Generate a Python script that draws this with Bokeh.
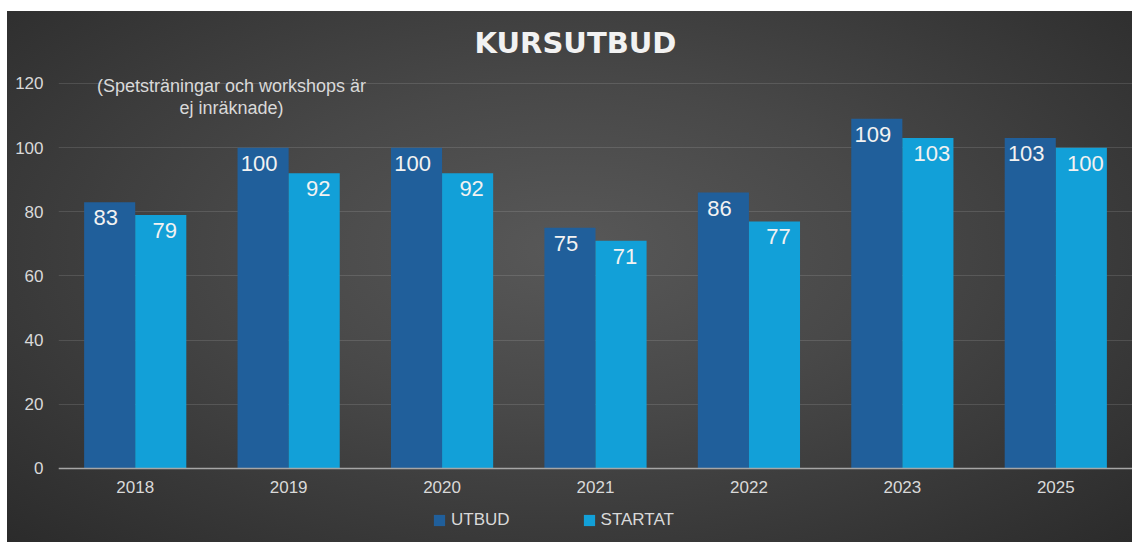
from bokeh.plotting import figure
from bokeh.models import ColumnDataSource, Range1d, FixedTicker, Legend, LegendItem, Label
from bokeh.transform import dodge
from bokeh.core.properties import value
from bokeh.embed import file_html
from bokeh.resources import INLINE

# ---- data ----
years = ["2018", "2019", "2020", "2021", "2022", "2023", "2025"]
utbud = [83, 100, 100, 75, 86, 109, 103]
startat = [79, 92, 92, 71, 77, 103, 100]
y_ticks = [0, 20, 40, 60, 80, 100, 120]
series_names = ["UTBUD", "STARTAT"]
title_text = "KURSUTBUD"
note_text = "(Spetsträningar och workshops är\nej inräknade)"

# ---- style ----
C_UTBUD = "#205f9b"
C_START = "#12a0d8"
TXT = "#d9d9d9"
FONT = "Liberation Sans"
BAR_W = 0.333

idx = list(range(len(years)))
src = ColumnDataSource(dict(
    x=idx, utbud=utbud, startat=startat,
    ul=[str(v) for v in utbud], sl=[str(v) for v in startat],
))

p = figure(width=1132, height=542, output_backend="svg", toolbar_location=None,
           title=None,
           x_range=Range1d(-0.5, len(years) - 0.5), y_range=Range1d(-23.07, 145.87),
           min_border_left=58, min_border_right=0, min_border_top=0,
           min_border_bottom=0)
p.background_fill_alpha = 0
p.border_fill_alpha = 0
p.outline_line_color = None
p.styles = {
    "background-color": "#ffffff",
    "background-image": "radial-gradient(ellipse at 50% 45%, #585858 0%, #484848 40%, #2b2b2b 100%)",
    "background-size": "calc(100% - 7px) calc(100% - 11px)",
    "background-position": "7px 11px",
    "background-repeat": "no-repeat",
}

r1 = p.vbar(x=dodge("x", -BAR_W / 2, range=p.x_range), top="utbud", width=BAR_W,
            source=src, fill_color=C_UTBUD, line_color=None)
r2 = p.vbar(x=dodge("x", BAR_W / 2, range=p.x_range), top="startat", width=BAR_W,
            source=src, fill_color=C_START, line_color=None)

p.text(x=dodge("x", -BAR_W / 2, range=p.x_range), y="utbud", text="ul", source=src,
       text_align="center", text_baseline="top", x_offset=-4, y_offset=8,
       text_color="#f2f2f2", text_font_size="22px", text_font=value(FONT))
p.text(x=dodge("x", BAR_W / 2, range=p.x_range), y="startat", text="sl", source=src,
       text_align="center", text_baseline="top", x_offset=4, y_offset=8,
       text_color="#f2f2f2", text_font_size="22px", text_font=value(FONT))

# axes
p.xaxis.fixed_location = 0
p.xaxis.ticker = FixedTicker(ticks=idx)
p.xaxis.major_label_overrides = {i: y for i, y in enumerate(years)}
p.xaxis.axis_line_color = "#a6a6a6"
p.xaxis.axis_line_width = 1.5
p.xaxis.major_tick_line_color = None
p.xaxis.minor_tick_line_color = None
p.xaxis.major_tick_out = 0
p.xaxis.major_tick_in = 0
p.xaxis.major_label_standoff = 13
p.xaxis.major_label_text_color = TXT
p.xaxis.major_label_text_font_size = "17px"
p.xaxis.major_label_text_font = FONT

p.yaxis.ticker = FixedTicker(ticks=y_ticks)
p.yaxis.axis_line_color = None
p.yaxis.major_tick_line_color = None
p.yaxis.minor_tick_line_color = None
p.yaxis.major_tick_out = 0
p.yaxis.major_tick_in = 0
p.yaxis.major_label_standoff = 15
p.yaxis.major_label_text_color = TXT
p.yaxis.major_label_text_font_size = "17px"
p.yaxis.major_label_text_font = FONT

p.xgrid.grid_line_color = None
p.ygrid.ticker = FixedTicker(ticks=y_ticks)
p.ygrid.grid_line_color = "#ffffff"
p.ygrid.grid_line_alpha = 0.12

# title and note (screen units relative to the plot frame's bottom-left)
p.add_layout(Label(x=517, y=500, x_units="screen", y_units="screen", text=title_text,
                   text_align="center", text_baseline="middle", text_color="#f2f2f2",
                   text_font_size="29px", text_font_style="bold",
                   text_font="DejaVu Sans"))
p.add_layout(Label(x=173, y=467, x_units="screen", y_units="screen", text=note_text,
                   text_align="center", text_baseline="top", text_color=TXT,
                   text_font_size="18px", text_font=FONT, text_line_height=1.1))

legend = Legend(items=[LegendItem(label=series_names[0], renderers=[r1]),
                       LegendItem(label=series_names[1], renderers=[r2])],
                orientation="horizontal", location=(374, 12), padding=0, margin=0,
                spacing=72, glyph_width=14, glyph_height=14, label_standoff=5,
                border_line_color=None, background_fill_alpha=0,
                label_text_color=TXT, label_text_font_size="17px", label_text_font=FONT)
p.add_layout(legend)

open("out.html", "w").write(file_html(p, INLINE))
